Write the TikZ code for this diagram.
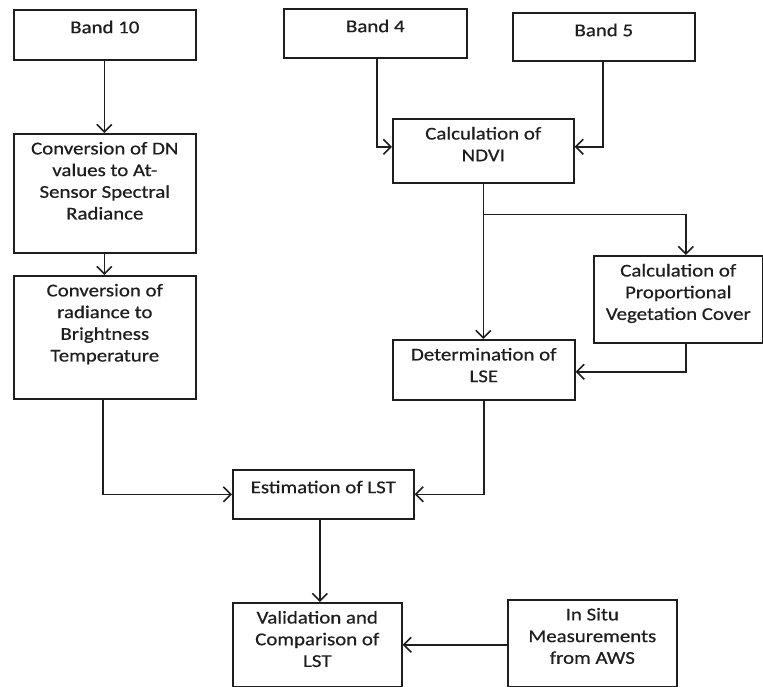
\documentclass[tikz,border=0pt]{standalone}
\usepackage{fontspec}
\setmainfont{Carlito}[FakeStretch=1.16,FakeBold=0.6]
\usetikzlibrary{arrows.meta,calc}
\definecolor{ink}{HTML}{1E1E1E}
\tikzset{
  box/.style={draw=ink, line width=1.6pt, rectangle, inner sep=0pt, anchor=north west},
  txt/.style={anchor=north, inner sep=0pt, yshift=-8.8pt, align=center, text=ink,
              font=\fontsize{18}{21.7}\selectfont, execute at begin node=\strut},
  arr/.style={draw=ink, line width=1.6pt, -{Straight Barb[length=7.5pt,width=15pt,line width=1.6pt]}},
  ln/.style={draw=ink, line width=1.6pt}
}
\newcommand\bx[6]{%
  \node[box, minimum width={(#4-#2)*1pt}, minimum height={(#5-#3)*1pt},
        label={[txt]north:{#6}}] (#1) at (#2,#3) {};}
\begin{document}
\begin{tikzpicture}[x=1pt,y=-1pt]
\useasboundingbox (0,0) rectangle (763,687);
\bx{b10}{13}{9}{195}{59}{Band 10}
\bx{dn}{13}{133}{195}{252}{Conversion of DN\\values to At-\\Sensor Spectral\\Radiance}
\bx{rad}{13}{275}{195}{398}{Conversion of\\radiance to\\Brightness\\Temperature}
\bx{b4}{283}{8}{466}{57}{Band 4}
\bx{b5}{512}{12}{694}{60}{Band 5}
\bx{ndvi}{392}{118}{573}{182}{Calculation of\\NDVI}
\bx{pvc}{593}{255}{762}{342}{Calculation of\\Proportional\\Vegetation Cover}
\bx{lse}{392}{339}{574}{399}{Determination of\\LSE}
\bx{est}{232}{469}{413}{518}{Estimation of LST}
\bx{val}{232}{602}{401}{686}{Validation and\\Comparison of\\LST}
\bx{ins}{507}{599}{676}{686}{In Situ\\Measurements\\from AWS}

\draw[arr] ([xshift=-0.5pt]b10.south) -- ([xshift=-0.5pt]dn.north);
\draw[arr] ([xshift=-0.5pt]dn.south) -- ([xshift=-0.5pt]rad.north);
\draw[arr] ([xshift=-2pt]rad.south) |- (est.west);
\draw[arr] ([xshift=1.5pt]b4.south) |- ([yshift=4pt]ndvi.west);
\draw[arr] ([xshift=-1pt]b5.south) |- ([yshift=4pt]ndvi.east);
\draw[arr] (ndvi.south) -- (ndvi.south |- lse.north);
\coordinate (br) at ($(ndvi.south)+(0,31)$);
\draw[arr] (br) -| ([xshift=7.5pt]pvc.north);
\draw[arr] ([xshift=7.5pt]pvc.south) |- ([yshift=-2pt]lse.east);
\draw[arr] (lse.south) |- (est.east);
\draw[arr] ([xshift=-3.5pt]est.south) -- ([xshift=2.5pt]val.north);
\draw[arr] (ins.west |- val.east) -- (val.east);
\end{tikzpicture}
\end{document}
